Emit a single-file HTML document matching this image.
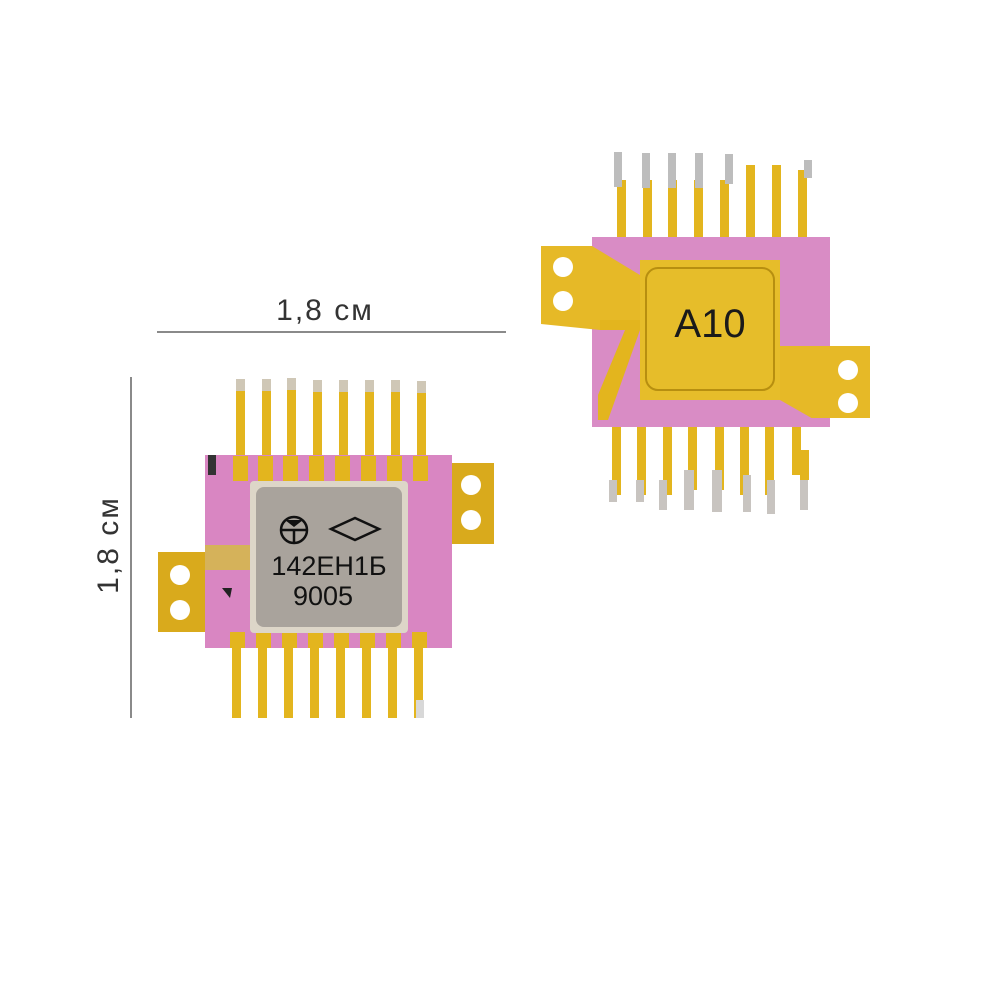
<!DOCTYPE html>
<html><head><meta charset="utf-8"><style>html,body{margin:0;padding:0;background:#fff}svg{display:block}</style></head>
<body>
<svg width="1000" height="1000" viewBox="0 0 1000 1000" xmlns="http://www.w3.org/2000/svg">
<rect width="1000" height="1000" fill="#fff"/>
<!-- dimension lines -->
<line x1="157" y1="332" x2="506" y2="332" stroke="#8a8a8a" stroke-width="2"/>
<text x="325" y="320" font-family="Liberation Sans, sans-serif" font-size="30" fill="#333" text-anchor="middle" letter-spacing="2">1,8 см</text>
<line x1="131" y1="377" x2="131" y2="718" stroke="#8a8a8a" stroke-width="2"/>
<text transform="translate(118,545) rotate(-90)" font-family="Liberation Sans, sans-serif" font-size="30" fill="#333" text-anchor="middle" letter-spacing="2">1,8 см</text>

<!-- LEFT CHIP -->
<g>
  <!-- top leads -->
  <g fill="#e3b51e">
    <rect x="236" y="385" width="9" height="85"/><rect x="262" y="385" width="9" height="85"/>
    <rect x="287" y="385" width="9" height="85"/><rect x="313" y="385" width="9" height="85"/>
    <rect x="339" y="385" width="9" height="85"/><rect x="365" y="385" width="9" height="85"/>
    <rect x="391" y="385" width="9" height="85"/><rect x="417" y="385" width="9" height="85"/>
  </g>
  <g fill="#cfc7b6">
    <rect x="236" y="379" width="9" height="12"/><rect x="262" y="379" width="9" height="12"/>
    <rect x="287" y="378" width="9" height="12"/><rect x="313" y="380" width="9" height="12"/>
    <rect x="339" y="380" width="9" height="12"/><rect x="365" y="380" width="9" height="12"/>
    <rect x="391" y="380" width="9" height="12"/><rect x="417" y="381" width="9" height="12"/>
  </g>
  <!-- bottom leads -->
  <g fill="#e3b51e">
    <rect x="232" y="630" width="9" height="88"/><rect x="258" y="630" width="9" height="88"/>
    <rect x="284" y="630" width="9" height="88"/><rect x="310" y="630" width="9" height="88"/>
    <rect x="336" y="630" width="9" height="88"/><rect x="362" y="630" width="9" height="88"/>
    <rect x="388" y="630" width="9" height="88"/><rect x="414" y="630" width="9" height="88"/>
  </g>
  <rect x="416" y="700" width="8" height="18" fill="#d8d8d8"/>
  <!-- tabs -->
  <rect x="158" y="552" width="50" height="80" fill="#d9aa1c"/>
  <circle cx="180" cy="575" r="10" fill="#fff"/><circle cx="180" cy="610" r="10" fill="#fff"/>
  <rect x="449" y="463" width="45" height="81" fill="#d9aa1c"/>
  <circle cx="471" cy="485" r="10" fill="#fff"/><circle cx="471" cy="520" r="10" fill="#fff"/>
  <!-- body -->
  <rect x="205" y="455" width="247" height="193" fill="#d986c2"/>
  <g fill="#e3b51e">
    <rect x="233" y="456" width="15" height="25"/><rect x="258" y="456" width="15" height="25"/>
    <rect x="283" y="456" width="15" height="25"/><rect x="309" y="456" width="15" height="25"/>
    <rect x="335" y="456" width="15" height="25"/><rect x="361" y="456" width="15" height="25"/>
    <rect x="387" y="456" width="15" height="25"/><rect x="413" y="456" width="15" height="25"/>
    <rect x="230" y="632" width="15" height="16"/><rect x="256" y="632" width="15" height="16"/>
    <rect x="282" y="632" width="15" height="16"/><rect x="308" y="632" width="15" height="16"/>
    <rect x="334" y="632" width="15" height="16"/><rect x="360" y="632" width="15" height="16"/>
    <rect x="386" y="632" width="15" height="16"/><rect x="412" y="632" width="15" height="16"/>
  </g>
  <rect x="208" y="455" width="8" height="20" fill="#333"/>
  <rect x="205" y="545" width="50" height="25" fill="#d5b25a"/>
  <polygon points="222,588 232,588 230,598" fill="#222"/>
  <!-- lid -->
  <rect x="250" y="481" width="158" height="152" rx="4" fill="#ddd6c8"/>
  <rect x="256" y="487" width="146" height="140" rx="8" fill="#a9a39c"/>
  <g fill="none" stroke="#111" stroke-width="2.5">
    <circle cx="294" cy="530" r="13"/><line x1="281" y1="530" x2="307" y2="530"/><line x1="294" y1="530" x2="294" y2="543"/>
    <polygon points="331,529 355,518 379,529 355,540"/>
  </g>
  <path d="M285,520 L294,527 L303,520 Z" fill="#111"/>
  <text x="329" y="575" font-family="Liberation Sans, sans-serif" font-size="27" fill="#111" text-anchor="middle">142ЕН1Б</text>
  <text x="323" y="605" font-family="Liberation Sans, sans-serif" font-size="27" fill="#111" text-anchor="middle">9005</text>
</g>

<!-- RIGHT CHIP -->
<g>
  <g fill="#e3b51e">
    <rect x="617" y="180" width="9" height="60"/><rect x="643" y="180" width="9" height="60"/>
    <rect x="668" y="180" width="9" height="60"/><rect x="694" y="180" width="9" height="60"/>
    <rect x="720" y="180" width="9" height="60"/><rect x="746" y="165" width="9" height="75"/>
    <rect x="772" y="165" width="9" height="75"/><rect x="798" y="170" width="9" height="70"/>
  </g>
  <g fill="#bdbdbd">
    <rect x="614" y="152" width="8" height="35"/><rect x="642" y="153" width="8" height="35"/>
    <rect x="668" y="153" width="8" height="35"/><rect x="695" y="153" width="8" height="35"/>
    <rect x="725" y="154" width="8" height="30"/><rect x="804" y="160" width="8" height="18"/>
  </g>
  <g fill="#e3b51e">
    <rect x="612" y="420" width="9" height="75"/><rect x="637" y="420" width="9" height="75"/>
    <rect x="663" y="420" width="9" height="75"/><rect x="688" y="420" width="9" height="70"/>
    <rect x="715" y="420" width="9" height="70"/><rect x="740" y="420" width="9" height="75"/>
    <rect x="765" y="420" width="9" height="75"/><rect x="792" y="420" width="9" height="55"/>
    <rect x="800" y="450" width="9" height="30"/>
  </g>
  <g fill="#c8c4c0">
    <rect x="609" y="480" width="8" height="22"/><rect x="636" y="480" width="8" height="22"/>
    <rect x="659" y="480" width="8" height="30"/><rect x="684" y="470" width="10" height="40"/>
    <rect x="712" y="470" width="10" height="42"/><rect x="743" y="475" width="8" height="37"/>
    <rect x="767" y="480" width="8" height="34"/><rect x="800" y="480" width="8" height="30"/>
  </g>
  <rect x="592" y="237" width="238" height="190" fill="#d98cc5"/>
  <!-- left tab and trace -->
  <polygon points="541,246 592,246 640,275 640,324 600,324 600,330 541,324" fill="#e6b927"/>
  <circle cx="563" cy="267" r="10" fill="#fff"/><circle cx="563" cy="301" r="10" fill="#fff"/>
  <polygon points="600,320 640,320 640,330 608,420 598,420 598,395 625,330 600,330" fill="#e3b51e"/>
  <!-- lid -->
  <rect x="640" y="260" width="140" height="140" fill="#e6bd2a"/>
  <rect x="646" y="268" width="128" height="122" rx="12" fill="none" stroke="#b78f10" stroke-width="2"/>
  <!-- right tab -->
  <rect x="780" y="346" width="90" height="72" fill="#e6b927"/>
  <polygon points="780,400 815,420 780,420" fill="#d98cc5"/>
  <circle cx="848" cy="370" r="10" fill="#fff"/><circle cx="848" cy="403" r="10" fill="#fff"/>
  <text x="710" y="337" font-family="Liberation Sans, sans-serif" font-size="40" fill="#1a1a1a" text-anchor="middle">A10</text>
</g>
</svg>
</body></html>
